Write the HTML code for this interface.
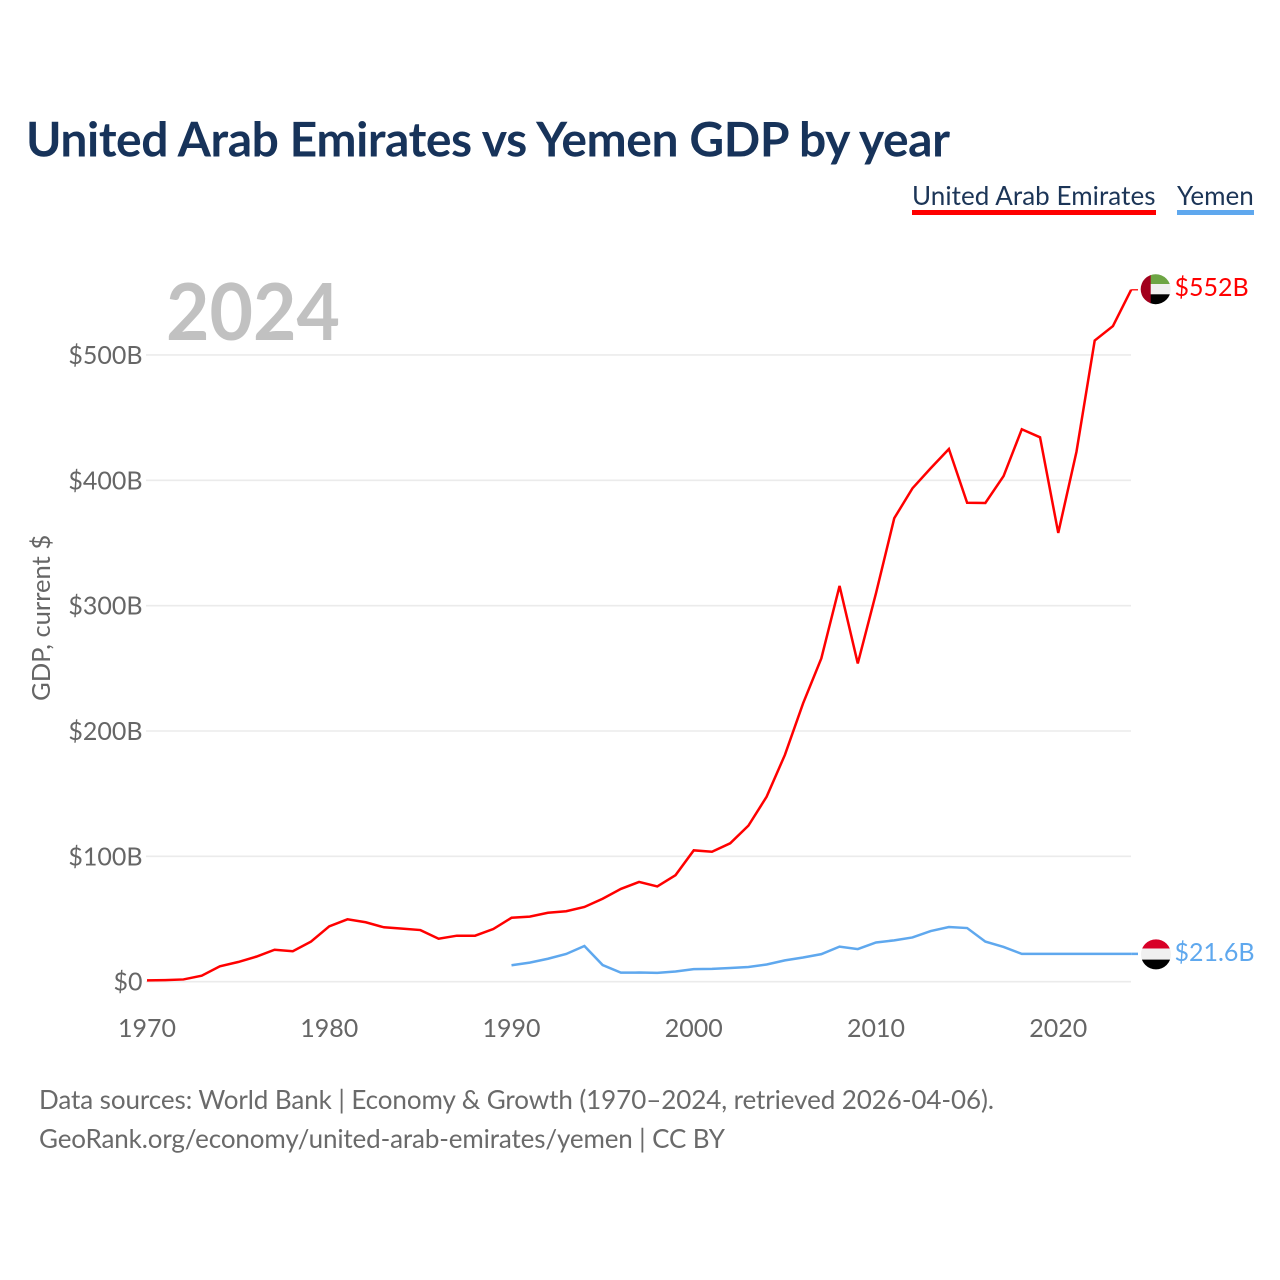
<!DOCTYPE html>
<html lang="en">
<head>
<meta charset="utf-8">
<title>United Arab Emirates vs Yemen GDP by year</title>
<style>
html,body{margin:0;padding:0;background:#fff;}
svg{display:block;}
text{font-family:"Lato","Carlito","Liberation Sans",sans-serif;}
</style>
</head>
<body>
<svg id="chart" xmlns="http://www.w3.org/2000/svg" width="1280" height="1280" viewBox="0 0 1280 1280">
  <rect x="0" y="0" width="1280" height="1280" fill="#ffffff"/>
  <text x="26" y="156.5" font-size="48" font-weight="700" fill="#17335a" textLength="924" lengthAdjust="spacing">United Arab Emirates vs Yemen GDP by year</text>

  <g>
    <text x="912" y="205" font-size="26" fill="#1c3557" textLength="243.5" lengthAdjust="spacing">United Arab Emirates</text>
    <rect x="912" y="210" width="244" height="5" fill="#ff0000"/>
  </g>
  <g>
    <text x="1177" y="205" font-size="26" fill="#1c3557">Yemen</text>
    <rect x="1177" y="210" width="77" height="5" fill="#5fa8ee"/>
  </g>

  <text x="166" y="340" font-size="79" font-weight="700" fill="#c1c1c1" textLength="174" lengthAdjust="spacingAndGlyphs">2024</text>

  <g id="grid"></g>
  <g id="yticks"></g>
  <g id="xticks"></g>

  <text transform="translate(50,701) rotate(-90)" font-size="25.6" fill="#666666">GDP, current $</text>

  <g id="series"></g>

  <defs>
    <clipPath id="clip-uae"><circle cx="1155.7" cy="289.2" r="15"/></clipPath>
    <clipPath id="clip-yem"><circle cx="1156" cy="954.4" r="15"/></clipPath>
  </defs>
  <g clip-path="url(#clip-uae)">
    <rect x="1140" y="274" width="32" height="31" fill="#f0f0f0"/>
    <rect x="1150" y="274" width="22" height="10" fill="#6da544"/>
    <rect x="1150" y="294.3" width="22" height="11" fill="#000000"/>
    <rect x="1140" y="274" width="10.7" height="31" fill="#a2001d"/>
  </g>
  <g clip-path="url(#clip-yem)">
    <rect x="1140" y="939" width="32" height="31" fill="#f0f0f0"/>
    <rect x="1140" y="939" width="32" height="9.5" fill="#d80027"/>
    <rect x="1140" y="959.6" width="32" height="11" fill="#000000"/>
  </g>

  <text x="1174.5" y="296" font-size="25" fill="#ff0000">$552B</text>
  <text x="1174.5" y="961" font-size="25" fill="#5fa8ee">$21.6B</text>

  <text x="39" y="1109" font-size="26" fill="#6a6a6a" textLength="955" lengthAdjust="spacing">Data sources: World Bank | Economy &amp; Growth (1970–2024, retrieved 2026-04-06).</text>
  <text x="39" y="1148" font-size="26" fill="#6a6a6a" textLength="686" lengthAdjust="spacing">GeoRank.org/economy/united-arab-emirates/yemen | CC BY</text>
</svg>
<script>
const uaeYears = [1970,1971,1972,1973,1974,1975,1976,1977,1978,1979,1980,1981,1982,1983,1984,1985,1986,1987,1988,1989,1990,1991,1992,1993,1994,1995,1996,1997,1998,1999,2000,2001,2002,2003,2004,2005,2006,2007,2008,2009,2010,2011,2012,2013,2014,2015,2016,2017,2018,2019,2020,2021,2022,2023,2024];
const uaeValues = [1.1,1.3,1.8,4.8,12.3,15.7,20,25.5,24.3,32,44.2,49.8,47.4,43.4,42.3,41.2,34.3,36.7,36.7,42,51,51.9,55,56.2,59.6,66.2,74,79.6,76,85,104.8,103.7,110.4,124.5,147.6,180.9,222.1,258,315.7,253.9,309.9,369.7,393.6,409.6,425,382.1,381.9,403.4,440.7,434.3,358,422.8,511.5,523,552];
const yemenYears = [1990,1991,1992,1993,1994,1995,1996,1997,1998,1999,2000,2001,2002,2003,2004,2005,2006,2007,2008,2009,2010,2011,2012,2013,2014,2015,2016,2017,2018,2019,2020,2021,2022,2023,2024];
const yemenValues = [13.1,15.2,18.3,22.1,28.5,13.3,7.2,7.3,7,8.1,10,10.2,10.9,11.7,13.7,17,19.3,22,28,26,31.3,33,35.3,40.4,43.6,42.8,32,27.7,22.2,22.2,22.2,22.2,22.2,22.2,22.2];
const yTickValues = [0,100,200,300,400,500];
const yTickLabels = ["$0","$100B","$200B","$300B","$400B","$500B"];
const xTickValues = [1970,1980,1990,2000,2010,2020];
const xTickLabels = ["1970","1980","1990","2000","2010","2020"];

const NS = "http://www.w3.org/2000/svg";
function xScale(year){ return 147 + (year - 1970) * 18.225; }
function yScale(v){ return 981.7 - v * 1.2535; }
function make(tag, attrs, parent){
  const el = document.createElementNS(NS, tag);
  for (const k in attrs) el.setAttribute(k, attrs[k]);
  parent.appendChild(el);
  return el;
}
const gridG = document.getElementById("grid");
const yG = document.getElementById("yticks");
const xG = document.getElementById("xticks");
const sG = document.getElementById("series");

yTickValues.forEach(function(v, i){
  const line = make("line", {x1:146, x2:1131, y1:yScale(v), y2:yScale(v), stroke:"#ebebeb", "stroke-width":1.6}, gridG);
  
  
  const t = make("text", {x:142.5, y:yScale(v)+9, "text-anchor":"end", "font-size":25, fill:"#666666"}, yG);
  t.textContent = yTickLabels[i];
  
  
});
xTickValues.forEach(function(v, i){
  const t = make("text", {x:xScale(v), y:1037, "text-anchor":"middle", "font-size":25, fill:"#666666"}, xG);
  t.textContent = xTickLabels[i];
  
  
});
function pathFor(years, values){
  return years.map(function(y, i){
    return (i ? "L" : "M") + xScale(y).toFixed(2) + " " + yScale(values[i]).toFixed(2);
  }).join(" ");
}
const yemenLine = make("path", {d:pathFor(yemenYears, yemenValues), fill:"none", stroke:"#5fa8ee", "stroke-width":2.5, "stroke-linejoin":"miter"}, sG);


const uaeLine = make("path", {d:pathFor(uaeYears, uaeValues), fill:"none", stroke:"#ff0000", "stroke-width":2.5, "stroke-linejoin":"miter"}, sG);



const lastUae = uaeValues[uaeValues.length - 1];
const lastYemen = yemenValues[yemenValues.length - 1];
const lastX = xScale(uaeYears[uaeYears.length - 1]);
const uaeConn = make("line", {x1:lastX, x2:1138, y1:yScale(lastUae), y2:yScale(lastUae), stroke:"#ff0000", "stroke-width":1.5, opacity:0.85}, sG);


const yemConn = make("line", {x1:lastX, x2:1138, y1:yScale(lastYemen), y2:yScale(lastYemen), stroke:"#5fa8ee", "stroke-width":2.5}, sG);


</script>
</body>
</html>
